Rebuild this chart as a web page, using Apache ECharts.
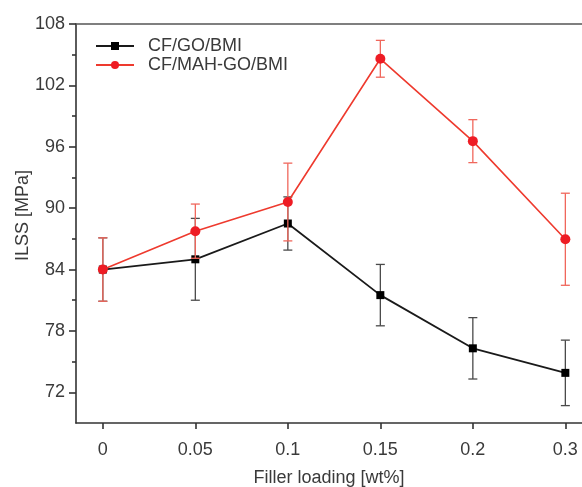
<!DOCTYPE html>
<html>
<head>
<meta charset="utf-8">
<script src="https://cdn.jsdelivr.net/npm/echarts@6/dist/echarts.min.js"></script>
<style>html,body{margin:0;padding:0;background:#fff;}#c{width:582px;height:487px;}</style>
</head>
<body>
<div id="c"></div>
<script>
const categories = ['0', '0.05', '0.1', '0.15', '0.2', '0.3'];
const goName = 'CF/GO/BMI';
const mahName = 'CF/MAH-GO/BMI';
const goValues = [84.0, 85.0, 88.5, 81.5, 76.3, 73.9];
const goErrors = [3.1, 4.0, 2.6, 3.0, 3.0, 3.2];
const mahValues = [84.0, 87.75, 90.6, 104.6, 96.55, 86.96];
const mahErrors = [3.1, 2.65, 3.8, 1.8, 2.1, 4.5];
const yTicks = [72, 78, 84, 90, 96, 102, 108];
const yMinorTicks = [75, 81, 87, 93, 99, 105];
const xTicks = [0, 1, 2, 3, 4, 5];

const FONT = "'Liberation Sans', Arial, sans-serif";
const TXT = '#3a3a3a';
const AX = '#333';

function pts(vals) { return vals.map((v, i) => [i, v]); }
function errs(vals, e) { return vals.map((v, i) => [i, v - e[i], v + e[i]]); }

function errRender(color, width) {
  return function (params, api) {
    const x = api.value(0);
    const lo = api.coord([x, api.value(1)]);
    const hi = api.coord([x, api.value(2)]);
    const hw = 4.5;
    const st = { stroke: color, lineWidth: width };
    return {
      type: 'group',
      children: [
        { type: 'line', shape: { x1: lo[0], y1: lo[1], x2: hi[0], y2: hi[1] }, style: st },
        { type: 'line', shape: { x1: hi[0] - hw, y1: hi[1], x2: hi[0] + hw, y2: hi[1] }, style: st },
        { type: 'line', shape: { x1: lo[0] - hw, y1: lo[1], x2: lo[0] + hw, y2: lo[1] }, style: st }
      ]
    };
  };
}

const chart = echarts.init(document.getElementById('c'), null, { renderer: 'canvas' });
chart.setOption({
  animation: false,
  backgroundColor: '#fff',
  textStyle: { fontFamily: FONT },
  grid: { left: 76, right: 0, top: 24, bottom: 64, containLabel: false, outerBoundsMode: 'none' },
  legend: {
    orient: 'vertical', left: 95, top: 37, padding: 0,
    itemWidth: 38, itemHeight: 10, itemGap: 1,
    data: [goName, mahName],
    textStyle: { fontSize: 18, color: TXT, fontFamily: FONT, lineHeight: 18, padding: [0, 0, 0, 9] }
  },
  xAxis: [{
    type: 'value', min: -0.29, max: 5.18,
    name: 'Filler loading [wt%]', nameLocation: 'middle', nameGap: 46, nameMoveOverlap: false,
    nameTextStyle: { fontSize: 18, color: TXT, fontFamily: FONT },
    axisLine: { show: true, onZero: false, lineStyle: { color: AX, width: 1.6 } },
    axisTick: { show: true, customValues: xTicks, length: 6, inside: false, lineStyle: { color: AX, width: 1.6 } },
    axisLabel: { customValues: xTicks, margin: 18, fontSize: 18, color: TXT, fontFamily: FONT,
      formatter: v => categories[Math.round(v)] },
    splitLine: { show: false }
  }, {
    type: 'value', position: 'top', min: -0.29, max: 5.18,
    axisLine: { show: true, onZero: false, lineStyle: { color: '#555', width: 1.6 } },
    axisTick: { show: false }, axisLabel: { show: false }, splitLine: { show: false }
  }],
  yAxis: [{
    type: 'value', min: 69, max: 108,
    name: 'ILSS [MPa]', nameLocation: 'middle', nameGap: 44, nameRotate: 90, nameMoveOverlap: false,
    nameTextStyle: { fontSize: 18, color: TXT, fontFamily: FONT, padding: [0, 0, 0, 16] },
    axisLine: { show: true, onZero: false, lineStyle: { color: AX, width: 1.6 } },
    axisTick: { show: true, customValues: yTicks, length: 7, inside: false, lineStyle: { color: AX, width: 1.6 } },
    axisLabel: { customValues: yTicks, margin: 11, fontSize: 18, color: TXT, fontFamily: FONT },
    splitLine: { show: false }
  }, {
    type: 'value', min: 69, max: 108, position: 'left',
    axisLine: { show: false, onZero: false },
    axisTick: { show: true, customValues: yMinorTicks, length: 4, inside: false, lineStyle: { color: AX, width: 1.6 } },
    axisLabel: { show: false }, splitLine: { show: false }
  }],
  series: [
    {
      name: goName + ' error', type: 'custom', xAxisIndex: 0, yAxisIndex: 0, z: 2,
      renderItem: errRender('#4a4a4a', 1.3), data: errs(goValues, goErrors), silent: true,
      encode: { x: 0, y: [1, 2] }
    },
    {
      name: goName, type: 'line', xAxisIndex: 0, yAxisIndex: 0, z: 3,
      data: pts(goValues), symbol: 'rect', symbolSize: 8,
      itemStyle: { color: '#000' }, lineStyle: { color: '#1a1a1a', width: 1.8 }
    },
    {
      name: mahName + ' error', type: 'custom', xAxisIndex: 0, yAxisIndex: 0, z: 4,
      renderItem: errRender('#f0675c', 1.3), data: errs(mahValues, mahErrors), silent: true,
      encode: { x: 0, y: [1, 2] }
    },
    {
      name: mahName, type: 'line', xAxisIndex: 0, yAxisIndex: 0, z: 5,
      data: pts(mahValues), symbol: 'circle', symbolSize: 10,
      itemStyle: { color: '#ee1c24' }, lineStyle: { color: '#ee3a2e', width: 1.6 }
    }
  ]
});
</script>
</body>
</html>
